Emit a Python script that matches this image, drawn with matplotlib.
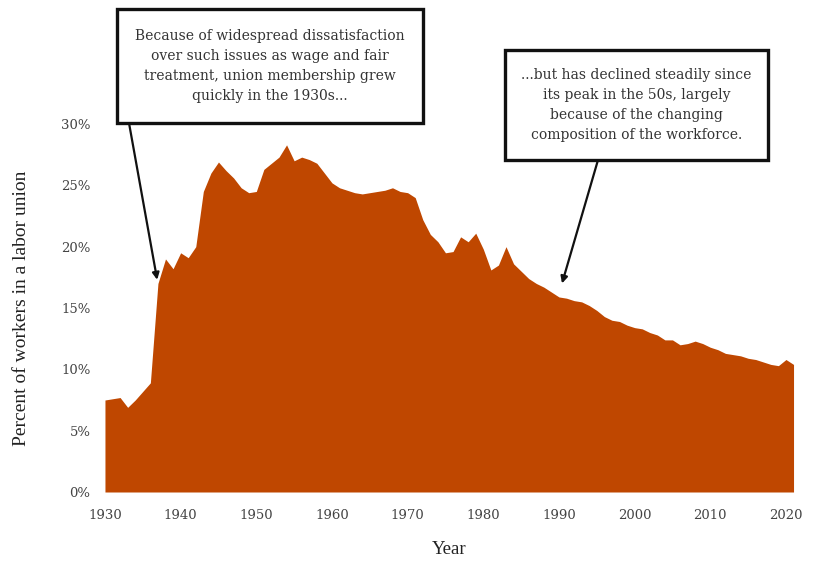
import matplotlib
matplotlib.use('Agg')
import matplotlib.pyplot as plt
from matplotlib.patches import Rectangle

# Union membership, share of workers (%)
years = list(range(1930, 2022))
membership = [
    7.5, 7.6, 7.7, 6.9, 7.5, 8.2, 8.9, 17.0, 19.0, 18.2,   # 1930s
    19.5, 19.1, 20.0, 24.5, 26.0, 26.9, 26.2, 25.6, 24.8, 24.4,  # 1940s
    24.5, 26.3, 26.8, 27.3, 28.3, 27.0, 27.3, 27.1, 26.8, 26.0,  # 1950s
    25.2, 24.8, 24.6, 24.4, 24.3, 24.4, 24.5, 24.6, 24.8, 24.5,  # 1960s
    24.4, 24.0, 22.2, 21.0, 20.4, 19.5, 19.6, 20.8, 20.4, 21.1,  # 1970s
    19.8, 18.1, 18.5, 20.0, 18.6, 18.0, 17.4, 17.0, 16.7, 16.3,  # 1980s
    15.9, 15.8, 15.6, 15.5, 15.2, 14.8, 14.3, 14.0, 13.9, 13.6,  # 1990s
    13.4, 13.3, 13.0, 12.8, 12.4, 12.4, 12.0, 12.1, 12.3, 12.1,  # 2000s
    11.8, 11.6, 11.3, 11.2, 11.1, 10.9, 10.8, 10.6, 10.4, 10.3,  # 2010s
    10.8, 10.4,
]
xticks = list(range(1930, 2021, 10))
yticks = [0, 5, 10, 15, 20, 25, 30]

note_left = ("Because of widespread dissatisfaction\n"
             "over such issues as wage and fair\n"
             "treatment, union membership grew\n"
             "quickly in the 1930s...")
note_right = ("...but has declined steadily since\n"
              "its peak in the 50s, largely\n"
              "because of the changing\n"
              "composition of the workforce.")

W, H = 819, 562
fig = plt.figure(figsize=(W / 100, H / 100), dpi=100)
fig.patch.set_facecolor('white')

# axes placed so 1930 -> px 105, 2020 -> px 786, 0% -> px 492, 30% -> px 124
ax = fig.add_axes([97.4 / W, (H - 492) / H, 703.7 / W, 368 / H])
ax.fill_between(years, membership, 0, color='#bf4700', linewidth=0)
ax.set_xlim(1929, 2022)
ax.set_ylim(0, 30)

for s in ax.spines.values():
    s.set_visible(False)

ax.set_xticks(xticks)
ax.set_xticklabels([str(y) for y in xticks])
ax.set_yticks(yticks)
ax.set_yticklabels([f'{v}%' for v in yticks])
ax.tick_params(axis='both', length=0, labelsize=9.5, colors='#444444')
ax.tick_params(axis='x', pad=12)
ax.tick_params(axis='y', pad=5)
for lab in ax.get_xticklabels() + ax.get_yticklabels():
    lab.set_family('DejaVu Serif')

ax.set_xlabel('Year', family='Liberation Serif', fontsize=13.5,
              color='#222222', labelpad=14)
ax.set_ylabel('Percent of workers in a labor union', family='Liberation Serif',
              fontsize=14, color='#222222', labelpad=22)


def px(x, y):
    # reference pixel (from top-left) to figure fraction
    return x / W, 1 - y / H


# annotation boxes
for (x0, y0, x1, y1), text in [((117, 9, 423, 123), note_left),
                               ((505, 50, 768, 160), note_right)]:
    fx, fy = px(x0, y1)
    fig.add_artist(Rectangle((fx, fy), (x1 - x0) / W, (y1 - y0) / H,
                             transform=fig.transFigure, facecolor='white',
                             edgecolor='#111111', linewidth=2.4, zorder=5))
    cx, cy = px((x0 + x1) / 2, (y0 + y1) / 2)
    fig.text(cx, cy, text, ha='center', va='center', fontsize=10,
             family='DejaVu Serif', color='#333333', linespacing=1.54,
             zorder=6)

# arrows from the boxes down to the curve
arrow = dict(arrowstyle='-|>', color='#111111', lw=1.6, mutation_scale=10,
             shrinkA=0, shrinkB=0)
ax.annotate('', xy=(1936.9, 17.3), xycoords='data',
            xytext=px(129, 123), textcoords='figure fraction',
            arrowprops=arrow, annotation_clip=False)
ax.annotate('', xy=(1990.4, 17.0), xycoords='data',
            xytext=px(598, 160), textcoords='figure fraction',
            arrowprops=arrow, annotation_clip=False)

fig.savefig('out.png', dpi=100)
